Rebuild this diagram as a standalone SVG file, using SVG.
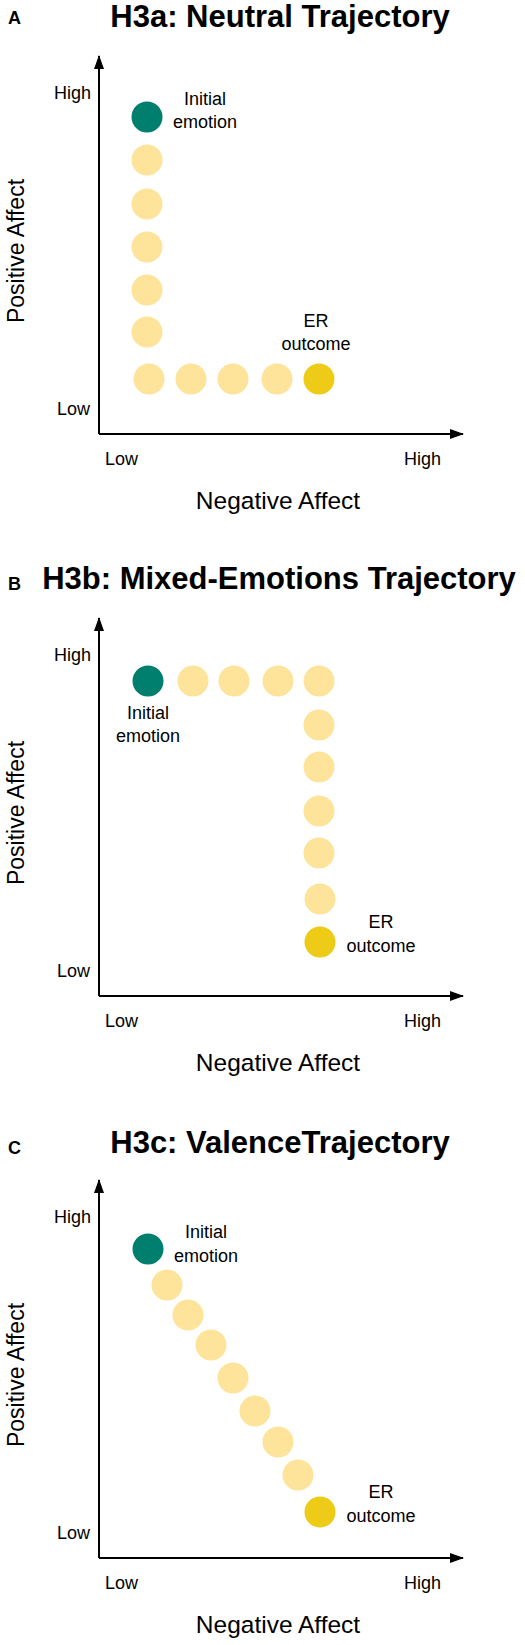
<svg xmlns="http://www.w3.org/2000/svg" width="525" height="1645" viewBox="0 0 525 1645">
<style>
.bg{fill:#ffffff}
.panel{font-family:"Liberation Sans",Arial,sans-serif;font-weight:bold;font-size:18px;fill:#000}
.title{font-family:"Liberation Sans",Arial,sans-serif;font-weight:bold;font-size:31px;fill:#000;text-anchor:middle}
.tick{font-family:"Liberation Sans",Arial,sans-serif;font-size:18px;fill:#000}
.lbl{font-family:"Liberation Sans",Arial,sans-serif;font-size:18px;fill:#000;text-anchor:middle}
.axt{font-family:"Liberation Sans",Arial,sans-serif;font-size:24.5px;fill:#000;text-anchor:middle}
.axis{stroke:#000;stroke-width:2;fill:none}
.init{fill:#007f6e}
.mid{fill:#fee49a}
.out{fill:#eecb16}
</style>
<defs>
<marker id="arr" viewBox="0 0 14 10" refX="13" refY="5" markerWidth="14" markerHeight="10" markerUnits="userSpaceOnUse" orient="auto">
<path d="M0,0 L14,5 L0,10 Z" fill="#000"/>
</marker>
</defs>
<rect class="bg" x="0" y="0" width="525" height="1645"/>

<!-- Panel A -->
<g id="panelA">
<text class="panel" x="8" y="24">A</text>
<text class="title" x="280" y="27">H3a: Neutral Trajectory</text>
<g id="axesA">
<line class="axis" x1="99" y1="434" x2="99" y2="56" marker-end="url(#arr)"/>
<line class="axis" x1="99" y1="434" x2="463" y2="434" marker-end="url(#arr)"/>
</g>
<text class="tick" x="91" y="99" text-anchor="end">High</text>
<text class="tick" x="90" y="415" text-anchor="end">Low</text>
<text class="tick" x="105" y="465">Low</text>
<text class="tick" x="441" y="465" text-anchor="end">High</text>
<text class="axt" x="278" y="509">Negative Affect</text>
<text class="axt" transform="translate(24,251) rotate(-90)" x="0" y="0" style="font-size:23px">Positive Affect</text>
<g id="nodeA-initial"><circle class="init" cx="147" cy="117" r="15.5"/>
<text class="lbl" x="205" y="105">Initial</text><text class="lbl" x="205" y="128">emotion</text></g>
<g id="nodeA-steps">
<circle class="mid" cx="147" cy="160" r="15.5"/>
<circle class="mid" cx="147" cy="204" r="15.5"/>
<circle class="mid" cx="147" cy="247" r="15.5"/>
<circle class="mid" cx="147" cy="290" r="15.5"/>
<circle class="mid" cx="147" cy="332" r="15.5"/>
<circle class="mid" cx="149" cy="379" r="15.5"/>
<circle class="mid" cx="191" cy="379" r="15.5"/>
<circle class="mid" cx="233" cy="379" r="15.5"/>
<circle class="mid" cx="277" cy="379" r="15.5"/>
</g>
<g id="nodeA-outcome"><circle class="out" cx="319" cy="379" r="15.5"/>
<text class="lbl" x="316" y="327">ER</text><text class="lbl" x="316" y="350">outcome</text></g>
</g>

<!-- Panel B -->
<g id="panelB">
<text class="panel" x="8" y="590">B</text>
<text class="title" x="279" y="589">H3b: Mixed-Emotions Trajectory</text>
<g id="axesB">
<line class="axis" x1="99" y1="996" x2="99" y2="618" marker-end="url(#arr)"/>
<line class="axis" x1="99" y1="996" x2="463" y2="996" marker-end="url(#arr)"/>
</g>
<text class="tick" x="91" y="661" text-anchor="end">High</text>
<text class="tick" x="90" y="977" text-anchor="end">Low</text>
<text class="tick" x="105" y="1027">Low</text>
<text class="tick" x="441" y="1027" text-anchor="end">High</text>
<text class="axt" x="278" y="1071">Negative Affect</text>
<text class="axt" transform="translate(24,813) rotate(-90)" x="0" y="0" style="font-size:23px">Positive Affect</text>
<g id="nodeB-initial"><circle class="init" cx="148" cy="681" r="15.5"/>
<text class="lbl" x="148" y="719">Initial</text><text class="lbl" x="148" y="742">emotion</text></g>
<g id="nodeB-steps">
<circle class="mid" cx="193" cy="681" r="15.5"/>
<circle class="mid" cx="234" cy="681" r="15.5"/>
<circle class="mid" cx="278" cy="681" r="15.5"/>
<circle class="mid" cx="319" cy="681" r="15.5"/>
<circle class="mid" cx="319" cy="725" r="15.5"/>
<circle class="mid" cx="319" cy="767" r="15.5"/>
<circle class="mid" cx="319" cy="811" r="15.5"/>
<circle class="mid" cx="319" cy="853" r="15.5"/>
<circle class="mid" cx="320" cy="899" r="15.5"/>
</g>
<g id="nodeB-outcome"><circle class="out" cx="320" cy="942" r="15.5"/>
<text class="lbl" x="381" y="928">ER</text><text class="lbl" x="381" y="952">outcome</text></g>
</g>

<!-- Panel C -->
<g id="panelC">
<text class="panel" x="8" y="1154">C</text>
<text class="title" x="280" y="1153">H3c: ValenceTrajectory</text>
<g id="axesC">
<line class="axis" x1="99" y1="1558" x2="99" y2="1180" marker-end="url(#arr)"/>
<line class="axis" x1="99" y1="1558" x2="463" y2="1558" marker-end="url(#arr)"/>
</g>
<text class="tick" x="91" y="1223" text-anchor="end">High</text>
<text class="tick" x="90" y="1539" text-anchor="end">Low</text>
<text class="tick" x="105" y="1589">Low</text>
<text class="tick" x="441" y="1589" text-anchor="end">High</text>
<text class="axt" x="278" y="1633">Negative Affect</text>
<text class="axt" transform="translate(24,1375) rotate(-90)" x="0" y="0" style="font-size:23px">Positive Affect</text>
<g id="nodeC-initial"><circle class="init" cx="148" cy="1249" r="15.5"/>
<text class="lbl" x="206" y="1238">Initial</text><text class="lbl" x="206" y="1262">emotion</text></g>
<g id="nodeC-steps">
<circle class="mid" cx="167" cy="1285" r="15.5"/>
<circle class="mid" cx="188" cy="1315" r="15.5"/>
<circle class="mid" cx="211" cy="1345" r="15.5"/>
<circle class="mid" cx="233" cy="1378" r="15.5"/>
<circle class="mid" cx="255" cy="1411" r="15.5"/>
<circle class="mid" cx="278" cy="1442" r="15.5"/>
<circle class="mid" cx="298" cy="1475" r="15.5"/>
</g>
<g id="nodeC-outcome"><circle class="out" cx="320" cy="1512" r="15.5"/>
<text class="lbl" x="381" y="1498">ER</text><text class="lbl" x="381" y="1522">outcome</text></g>
</g>
</svg>
